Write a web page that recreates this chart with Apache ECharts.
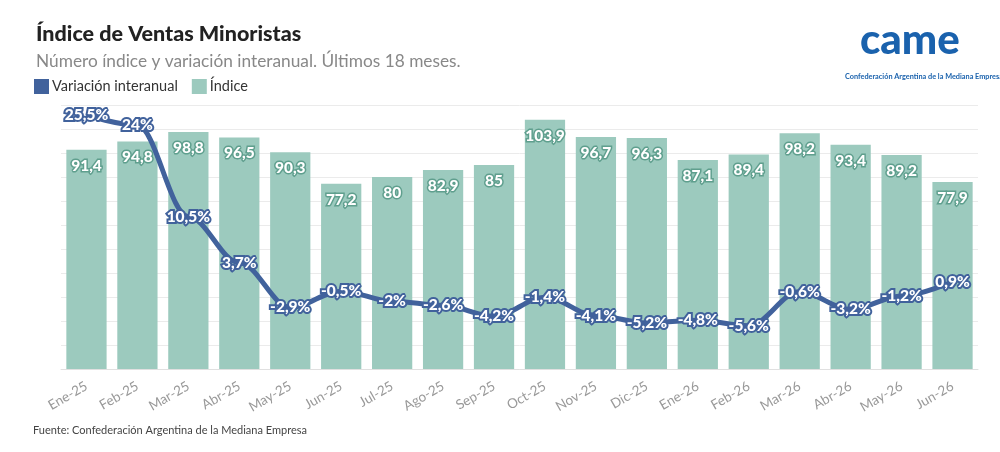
<!DOCTYPE html>
<html><head><meta charset="utf-8">
<script src="https://cdn.jsdelivr.net/npm/echarts@6/dist/echarts.min.js"></script>
<style>html,body{margin:0;padding:0;background:#fff}#c{width:1000px;height:452px}</style>
</head><body><div id="c"></div>
<script>
const categories = ['Ene-25','Feb-25','Mar-25','Abr-25','May-25','Jun-25','Jul-25','Ago-25','Sep-25','Oct-25','Nov-25','Dic-25','Ene-26','Feb-26','Mar-26','Abr-26','May-26','Jun-26'];
const indice = [91.4,94.8,98.8,96.5,90.3,77.2,80,82.9,85,103.9,96.7,96.3,87.1,89.4,98.2,93.4,89.2,77.9];
const variacion = [25.5,24,10.5,3.7,-2.9,-0.5,-2,-2.6,-4.2,-1.4,-4.1,-5.2,-4.8,-5.6,-0.6,-3.2,-1.2,0.9];

const FONT = 'Lato';
const BAR = '#9ccabe';
const LINE = '#41629c';
const fmt = v => String(v).replace('.', ',');

const chart = echarts.init(document.getElementById('c'));
chart.setOption({
  animation: false,
  textStyle: { fontFamily: FONT },
  title: {
    text: 'Índice de Ventas Minoristas',
    subtext: 'Número índice y variación interanual. Últimos 18 meses.',
    left: 31, top: 18, itemGap: 8,
    textStyle: { fontFamily: FONT, fontSize: 21.5, fontWeight: 900, color: '#222' },
    subtextStyle: { fontFamily: FONT, fontSize: 17.3, color: '#888' }
  },
  legend: {
    data: ['Variación interanual', 'Índice'],
    left: 29, top: 74, icon: 'rect', itemWidth: 15, itemHeight: 15, itemGap: 14,
    textStyle: { fontFamily: FONT, fontSize: 14.5, color: '#333', padding: [0,0,0,-2] }
  },
  grid: { left: 61, right: 22, top: 105, bottom: 83 },
  xAxis: {
    type: 'category', data: categories,
    axisLine: { lineStyle: { color: '#e0e0e0' } },
    axisTick: { alignWithLabel: true, length: 4, lineStyle: { color: '#ddd' } },
    axisLabel: { rotate: 30, color: '#999', fontSize: 13.5, margin: 16, fontFamily: FONT }
  },
  yAxis: [
    { type: 'value', min: 0, max: 110, interval: 10, axisLabel: { show: false },
      axisLine: { show: false }, axisTick: { show: false },
      splitLine: { lineStyle: { color: '#ebebeb' } } },
    { type: 'value', min: -12, max: 27, axisLabel: { show: false },
      axisLine: { show: false }, axisTick: { show: false }, splitLine: { show: false } }
  ],
  series: [
    {
      name: 'Índice', type: 'bar', yAxisIndex: 0, data: indice,
      barCategoryGap: '21%', itemStyle: { color: BAR }, z: 1,
      label: { show: true, position: 'insideTop', distance: 8,
        formatter: p => fmt(p.value), color: '#fff', fontSize: 15.5, fontWeight: 900,
        fontFamily: FONT, textBorderColor: '#5f9f8e', textBorderWidth: 3 }
    },
    {
      name: 'Variación interanual', type: 'line', yAxisIndex: 1, data: variacion,
      smooth: 0.35, smoothMonotone: 'x', showSymbol: true, symbol: 'circle', symbolSize: 1,
      itemStyle: { color: LINE }, lineStyle: { color: LINE, width: 5 }, z: 5,
      label: { show: true, position: 'inside',
        formatter: p => fmt(p.value) + '%', color: '#fff', fontSize: 15.5, fontWeight: 900,
        fontFamily: FONT, textBorderColor: LINE, textBorderWidth: 4 }
    }
  ],
  graphic: [
    { type: 'text', left: 33, top: 425,
      style: { text: 'Fuente: Confederación Argentina de la Mediana Empresa', fontSize: 11, fill: '#444', fontFamily: FONT } },
    { type: 'text', left: 860, top: 19,
      style: { text: 'came', fontSize: 42, fontWeight: 900, fill: '#1a62ad', fontFamily: 'Lato' } },
    { type: 'text', left: 845, top: 73,
      style: { text: 'Confederación Argentina de la Mediana Empresa', fontSize: 7.3, fontWeight: 'bold', fill: '#1a62ad', fontFamily: FONT } }
  ]
});
</script></body></html>
